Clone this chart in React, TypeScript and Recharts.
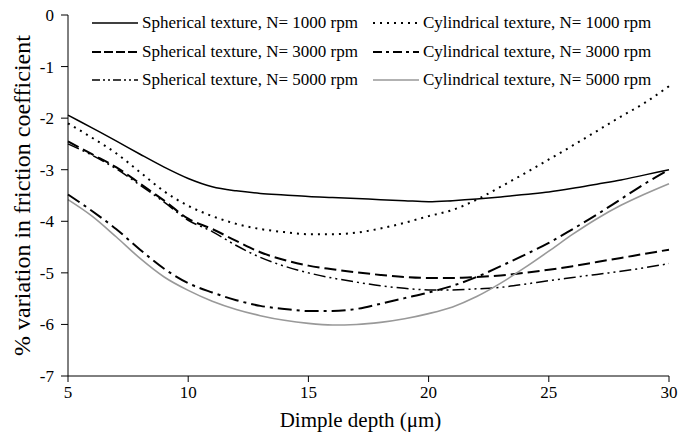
import React from "react";
import { LineChart, Line, XAxis, YAxis, Legend, Label } from "recharts";

// dimple depth (µm)
const depth = [5, 6, 7, 8, 9, 10, 11, 12, 13, 14, 15, 16, 17, 18, 19, 20, 21, 22, 23, 24, 25, 26, 27, 28, 29, 30];

// % variation in friction coefficient
const sph1000 = [-1.94, -2.19, -2.44, -2.7, -2.95, -3.17, -3.33, -3.41, -3.46, -3.49, -3.52, -3.54, -3.56, -3.58, -3.6, -3.62, -3.6, -3.57, -3.53, -3.48, -3.43, -3.36, -3.28, -3.2, -3.1, -3.0];
const cyl1000 = [-2.1, -2.38, -2.68, -3.05, -3.42, -3.7, -3.9, -4.05, -4.15, -4.21, -4.25, -4.25, -4.22, -4.14, -4.03, -3.9, -3.78, -3.58, -3.33, -3.07, -2.8, -2.53, -2.25, -1.97, -1.7, -1.38];
const sph3000 = [-2.45, -2.7, -2.95, -3.27, -3.6, -3.95, -4.15, -4.38, -4.6, -4.75, -4.86, -4.93, -4.99, -5.04, -5.08, -5.1, -5.1, -5.08, -5.05, -5.0, -4.94, -4.87, -4.79, -4.71, -4.63, -4.55];
const cyl3000 = [-3.48, -3.8, -4.15, -4.55, -4.92, -5.2, -5.38, -5.53, -5.64, -5.7, -5.74, -5.74, -5.7, -5.6, -5.49, -5.38, -5.25, -5.08, -4.87, -4.65, -4.42, -4.15, -3.87, -3.57, -3.27, -3.0];
const sph5000 = [-2.5, -2.72, -2.98, -3.3, -3.63, -3.98, -4.2, -4.47, -4.7, -4.87, -5.0, -5.1, -5.18, -5.25, -5.3, -5.33, -5.33, -5.31, -5.28, -5.22, -5.15, -5.09, -5.03, -4.97, -4.9, -4.82];
const cyl5000 = [-3.58, -3.9, -4.3, -4.72, -5.08, -5.34, -5.55, -5.71, -5.83, -5.92, -5.98, -6.01, -6.0, -5.96, -5.89, -5.79, -5.66, -5.46, -5.2, -4.9, -4.58, -4.25, -3.95, -3.69, -3.47, -3.27];

const xTicks = [5, 10, 15, 20, 25, 30];
const yTicks = [0, -1, -2, -3, -4, -5, -6, -7];

const data = depth.map((d, i) => ({
  depth: d,
  s1000: sph1000[i],
  c1000: cyl1000[i],
  s3000: sph3000[i],
  c3000: cyl3000[i],
  s5000: sph5000[i],
  c5000: cyl5000[i],
}));

const FONT = "'Liberation Serif', 'Times New Roman', serif";

// legend order: row by row, spherical left, cylindrical right
const series = [
  { key: "s1000", name: "Spherical texture, N= 1000 rpm", color: "#000", width: 1.5, dash: undefined, legendDash: undefined },
  { key: "c1000", name: "Cylindrical texture, N= 1000 rpm", color: "#000", width: 2, dash: "2 5", legendDash: "2 5" },
  { key: "s3000", name: "Spherical texture, N= 3000 rpm", color: "#000", width: 2, dash: "12 5", legendDash: "9 3" },
  { key: "c3000", name: "Cylindrical texture, N= 3000 rpm", color: "#000", width: 2, dash: "14 5 3 5", legendDash: "9 4 3 4" },
  { key: "s5000", name: "Spherical texture, N= 5000 rpm", color: "#000", width: 1.5, dash: "12 4 2 4 2 4", legendDash: "8 3 2 3 2 3" },
  { key: "c5000", name: "Cylindrical texture, N= 5000 rpm", color: "#999", width: 1.6, dash: undefined, legendDash: undefined },
];

const renderLegend = () => (
  <div
    style={{
      display: "grid",
      gridTemplateColumns: "281px 300px",
      gridAutoRows: "28.5px",
      fontFamily: FONT,
      fontSize: 17,
      color: "#000",
    }}
  >
    {series.map((s) => (
      <div key={s.key} style={{ display: "flex", alignItems: "center", whiteSpace: "nowrap" }}>
        <svg width={47} height={10} style={{ marginRight: 3 }}>
          <line
            x1={0}
            y1={5}
            x2={46}
            y2={5}
            stroke={s.color}
            strokeWidth={s.width}
            strokeDasharray={s.legendDash}
          />
        </svg>
        <span>{s.name}</span>
      </div>
    ))}
  </div>
);

const YTitle = (props: any) => {
  const vb = props.viewBox;
  const cy = vb.y + vb.height / 2;
  return (
    <text
      x={22}
      y={cy}
      transform={`rotate(-90, 22, ${cy})`}
      textAnchor="middle"
      dominantBaseline="central"
      fontSize={24}
      fill="#000"
    >
      % variation in friction coefficient
    </text>
  );
};

const XTitle = (props: any) => {
  const vb = props.viewBox;
  return (
    <text
      x={vb.x + vb.width / 2 - 8}
      y={427}
      textAnchor="middle"
      fontSize={21}
      fill="#000"
    >
      Dimple depth (μm)
    </text>
  );
};

const tickStyle = { fill: "#000", fontSize: 17 };

export default function App() {
  return (
    <div style={{ position: "absolute", left: 0, top: 0, background: "#fff" }}>
      <style>{`.chart svg text { font-family: 'Liberation Serif', 'Times New Roman', serif !important; }`}</style>
      <div className="chart">
        <LineChart
          width={683}
          height={441}
          data={data}
          margin={{ top: 15, right: 14, left: 0, bottom: 0 }}
        >
          <XAxis
            dataKey="depth"
            type="number"
            domain={[5, 30]}
            ticks={xTicks}
            height={65}
            axisLine={{ stroke: "#000" }}
            tickLine={{ stroke: "#000" }}
            tickSize={6}
            tickMargin={4}
            tick={tickStyle}
          >
            <Label content={XTitle} />
          </XAxis>
          <YAxis
            type="number"
            domain={[-7, 0]}
            ticks={yTicks}
            width={68}
            axisLine={{ stroke: "#000" }}
            tickLine={{ stroke: "#000" }}
            tickSize={7}
            tickMargin={7}
            tick={tickStyle}
          >
            <Label content={YTitle} />
          </YAxis>
          <Legend
            layout="horizontal"
            verticalAlign="middle"
            align="center"
            content={renderLegend}
            wrapperStyle={{ position: "absolute", left: 92, top: 9, width: 590 }}
          />
          {series.map((s) => (
            <Line
              key={s.key}
              type="monotone"
              dataKey={s.key}
              name={s.name}
              stroke={s.color}
              strokeWidth={s.width}
              strokeDasharray={s.dash}
              dot={false}
              activeDot={false}
              isAnimationActive={false}
            />
          ))}
        </LineChart>
      </div>
    </div>
  );
}
